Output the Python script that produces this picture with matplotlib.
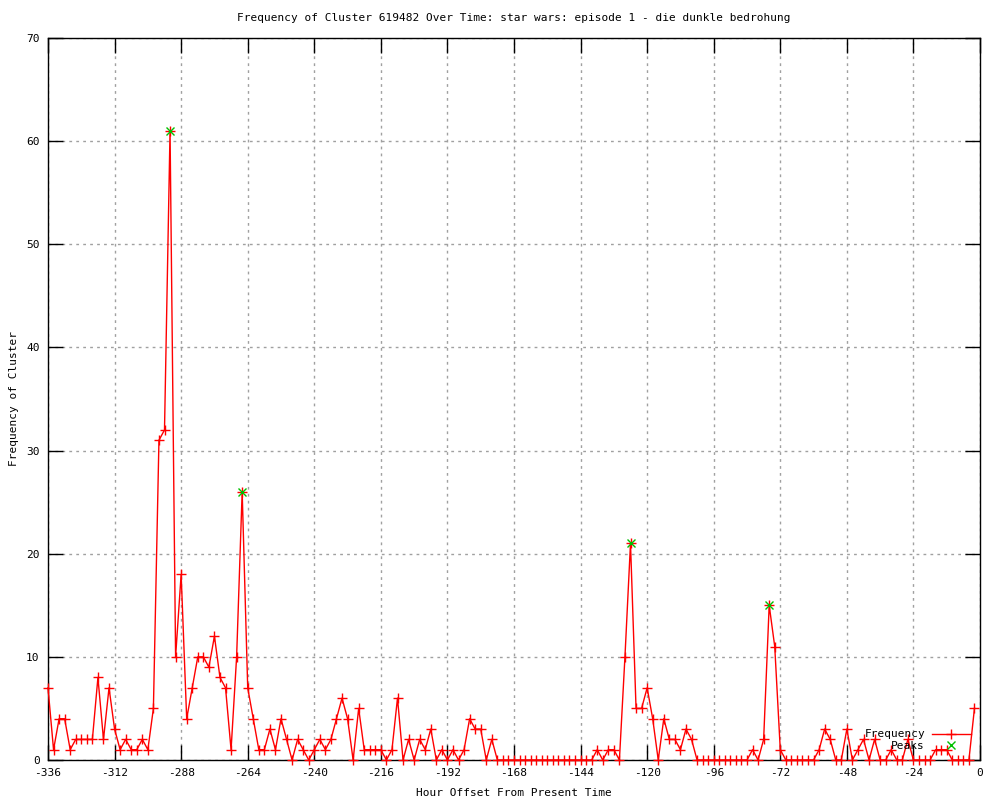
import numpy as np
import matplotlib
matplotlib.use('Agg')
import matplotlib.pyplot as plt

# hour offsets, every 2 hours from -336 to -2
hours = np.arange(-336, 0, 2)

# frequency per 2-hour slot
freq = [7, 1, 4, 4, 1, 2, 2, 2, 2, 8, 2, 7, 3, 1, 2, 1, 1, 2, 1, 5,
        31, 32, 61, 10, 18, 4, 7, 10, 10, 9, 12, 8, 7, 1,
        10, 26, 7, 4, 1, 1, 3, 1, 4, 2, 0, 2, 1, 0, 1,
        2, 1, 2, 4, 6, 4, 0, 5, 1, 1, 1, 1, 0, 1, 6, 0, 2, 0, 2, 1,
        3, 0, 1, 0, 1, 0, 1, 4, 3, 3, 0, 2,
        0, 0, 0, 0, 0, 0, 0, 0, 0, 0, 0, 0, 0, 0, 0, 0, 0, 0,
        1, 0, 1, 1, 0, 10, 21, 5, 5, 7, 4, 0, 4, 2, 2, 1, 3, 2, 0,
        0, 0, 0, 0, 0, 0, 0, 0, 0,
        1, 0, 2, 15, 11, 1,
        0, 0, 0, 0, 0, 0,
        1, 3, 2, 0, 0, 3, 0, 1, 2, 0, 2, 0, 0, 1, 0, 0, 2, 0, 0, 0, 0, 1, 1, 1, 0, 0, 0, 0, 5]

peak_hours = [-292, -266, -126, -76]
peak_vals = [61, 26, 21, 15]

xticks = list(range(-336, 1, 24))
yticks = list(range(0, 71, 10))

plt.rcParams['font.family'] = ['DejaVu Sans Mono']
plt.rcParams['font.size'] = 8
plt.rcParams['axes.unicode_minus'] = False

fig = plt.figure(figsize=(10, 8), dpi=100)
ax = fig.add_axes([0.048, 0.05, 0.932, 0.9025])

ax.plot(hours, freq, color='red', lw=1, marker='+', markersize=7,
        markeredgewidth=1, label='Frequency', clip_on=False, zorder=3)
ax.plot(peak_hours, peak_vals, linestyle='none', marker='x', color='#00c000',
        markersize=6, markeredgewidth=1, label='Peaks', clip_on=False, zorder=4)

ax.set_xlim(-336, 0)
ax.set_ylim(0, 70)
ax.set_xticks(xticks)
ax.set_yticks(yticks)
ax.tick_params(direction='in', length=11, width=1, top=True, right=True,
               labelsize=8, pad=6)
ax.grid(True, color='#a0a0a0', linestyle=(0, (2, 3)), linewidth=1)
for s in ax.spines.values():
    s.set_linewidth(1)
    s.set_color('black')

ax.set_title('Frequency of Cluster 619482 Over Time: star wars: episode 1 - die dunkle bedrohung',
             fontsize=8, pad=12)
ax.set_xlabel('Hour Offset From Present Time', fontsize=8, labelpad=7)
ax.set_ylabel('Frequency of Cluster', fontsize=8, labelpad=5)

leg = ax.legend(loc='lower right', frameon=False, markerfirst=False,
                fontsize=8, handlelength=3.5, borderaxespad=0.45,
                labelspacing=0.1, handletextpad=0.6)
for t in leg.get_texts():
    t.set_ha('right')

fig.savefig('out.png', dpi=100)
